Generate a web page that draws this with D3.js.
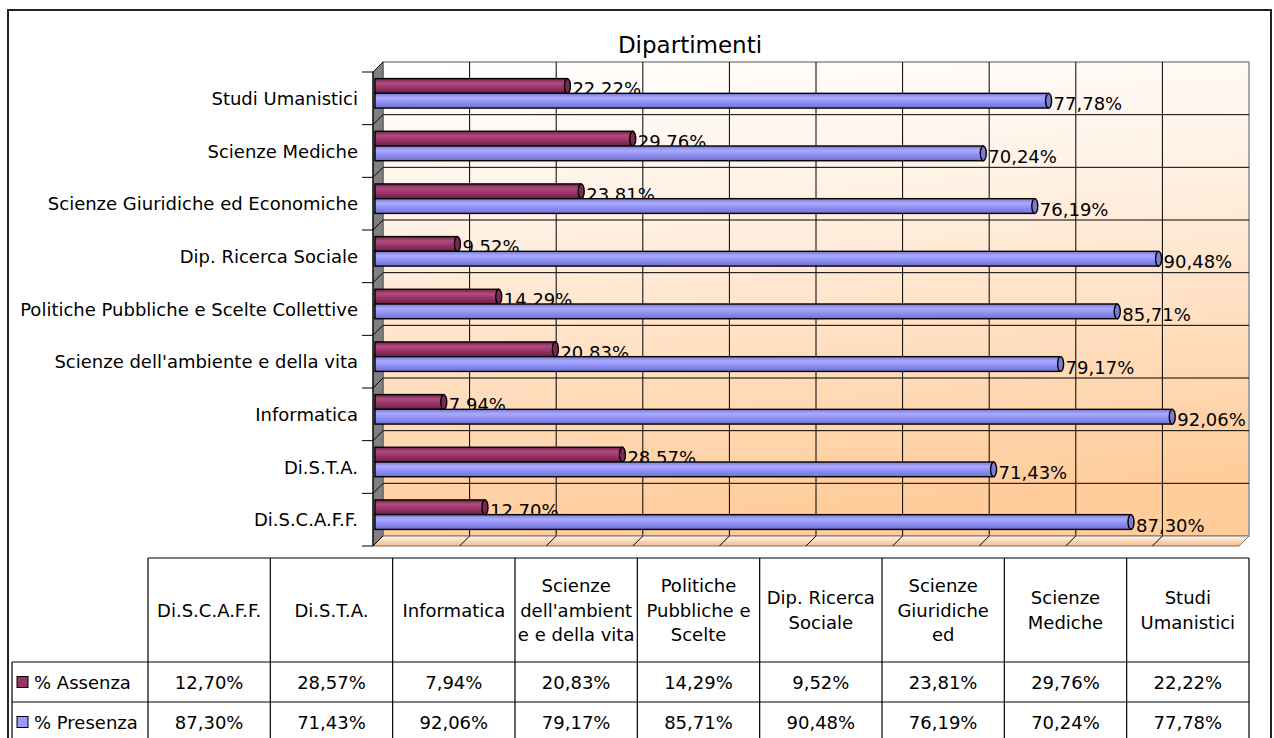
<!DOCTYPE html>
<html>
<head>
<meta charset="utf-8">
<script src="https://cdn.jsdelivr.net/npm/d3@7"></script>
<style>
  body { margin: 0; background: #fff; }
  text { font-family: "Comic Sans MS", "DejaVu Sans", sans-serif; fill: #000; }
</style>
</head>
<body>
<div id="chart"></div>
<script>
// data, in table order (bottom of the chart first)
var categories = ["Di.S.C.A.F.F.", "Di.S.T.A.", "Informatica", "Scienze dell'ambiente e della vita",
  "Politiche Pubbliche e Scelte Collettive", "Dip. Ricerca Sociale", "Scienze Giuridiche ed Economiche",
  "Scienze Mediche", "Studi Umanistici"];
// header of the data table, wrapped / cut like the original
var headerLines = [["Di.S.C.A.F.F."], ["Di.S.T.A."], ["Informatica"], ["Scienze", "dell'ambient", "e e della vita"],
  ["Politiche", "Pubbliche e", "Scelte"], ["Dip. Ricerca", "Sociale"], ["Scienze", "Giuridiche", "ed"],
  ["Scienze", "Mediche"], ["Studi", "Umanistici"]];
var seriesNames = ["% Assenza", "% Presenza"];
var assenza = [12.70, 28.57, 7.94, 20.83, 14.29, 9.52, 23.81, 29.76, 22.22];
var presenza = [87.30, 71.43, 92.06, 79.17, 85.71, 90.48, 76.19, 70.24, 77.78];
var gridValues = [0, 10, 20, 30, 40, 50, 60, 70, 80, 90, 100];
var title = "Dipartimenti";

var series = [assenza, presenza];
var colors = ["#993366", "#9999FF"];

var svgWidth = 1274, svgHeight = 738;
var fs = 18;
var DX = -10, DY = 10; // 3d depth offset (front = back + offset)

var loc = d3.formatLocale({decimal: ",", thousands: ".", grouping: [3], currency: ["", "€"]});
var pct = function(v) { return loc.format(".2f")(v) + "%"; };

var svg = d3.select("#chart").append("svg")
  .attr("width", svgWidth).attr("height", svgHeight);

var defs = svg.append("defs");
var wallGrad = defs.append("linearGradient").attr("id", "wall")
  .attr("x1", 0).attr("y1", 0).attr("x2", 0.15).attr("y2", 1);
wallGrad.append("stop").attr("offset", 0).attr("stop-color", "#ffffff");
wallGrad.append("stop").attr("offset", 0.35).attr("stop-color", "#fff1e4");
wallGrad.append("stop").attr("offset", 1).attr("stop-color", "#ffcc9a");

var floorGrad = defs.append("linearGradient").attr("id", "floor")
  .attr("x1", 0).attr("y1", 0).attr("x2", 0).attr("y2", 1);
floorGrad.append("stop").attr("offset", 0).attr("stop-color", "#fff6ee");
floorGrad.append("stop").attr("offset", 1).attr("stop-color", "#f4b98a");

var barStops = [
  [["0", "#6e2248"], ["0.3", "#b04c80"], ["0.6", "#9a3468"], ["1", "#6a1f45"]],
  [["0", "#7a7ad8"], ["0.3", "#aaaaff"], ["0.6", "#9090f4"], ["1", "#7070d0"]]
];
barStops.forEach(function(st, i) {
  var g = defs.append("linearGradient").attr("id", "bar" + i)
    .attr("x1", 0).attr("y1", 0).attr("x2", 0).attr("y2", 1);
  st.forEach(function(s) { g.append("stop").attr("offset", s[0]).attr("stop-color", s[1]); });
});

// outer frame
svg.append("rect")
  .attr("x", 8).attr("y", 10).attr("width", 1263).attr("height", 760)
  .attr("fill", "#fff").attr("stroke", "#222").attr("stroke-width", 2);

// title
svg.append("text")
  .attr("x", 690).attr("y", 45)
  .attr("text-anchor", "middle").attr("dominant-baseline", "central")
  .attr("font-size", 23)
  .text(title);

// scales (back wall)
var order = categories.slice().reverse(); // top of chart = last category
var x = d3.scaleLinear().domain([0, 100]).range([383, 1249]);
var y = d3.scaleBand().domain(order).range([62, 536]);

// bars sit a bit in front of the wall
var xb = d3.scaleLinear().domain([0, 100]).range([375, 1241]);
var yb = d3.scaleBand().domain(order).range([67, 541]).paddingInner(0.44).paddingOuter(0.22);
var ys = d3.scaleBand().domain([0, 1]).range([0, yb.bandwidth()]);

// back wall
svg.append("rect")
  .attr("x", x(0)).attr("y", y.range()[0])
  .attr("width", x(100) - x(0)).attr("height", y.range()[1] - y.range()[0])
  .attr("fill", "url(#wall)").attr("stroke", "#8c8c8c").attr("stroke-width", 1.5);

// vertical gridlines
svg.append("g").selectAll("line")
  .data(gridValues.slice(1, -1))
  .enter().append("line")
  .attr("x1", d => x(d)).attr("x2", d => x(d))
  .attr("y1", y.range()[0]).attr("y2", y.range()[1])
  .attr("stroke", "#000").attr("stroke-width", 1);

// horizontal gridlines (category boundaries)
var bounds = order.map(d => y(d)).concat([y.range()[1]]);
svg.append("g").selectAll("line")
  .data(bounds.slice(1, -1))
  .enter().append("line")
  .attr("x1", x(0)).attr("x2", x(100))
  .attr("y1", d => d).attr("y2", d => d)
  .attr("stroke", "#000").attr("stroke-width", 1);

// left wall
svg.append("polygon")
  .attr("points", [[x(0), y.range()[0]], [x(0), y.range()[1]],
    [x(0) + DX, y.range()[1] + DY], [x(0) + DX, y.range()[0] + DY]].join(" "))
  .attr("fill", "#808080").attr("stroke", "#555").attr("stroke-width", 1);

// floor
svg.append("polygon")
  .attr("points", [[x(0), y.range()[1]], [x(100), y.range()[1]],
    [x(100) + DX, y.range()[1] + DY], [x(0) + DX, y.range()[1] + DY]].join(" "))
  .attr("fill", "url(#floor)").attr("stroke", "#777").attr("stroke-width", 1);

// floor grid diagonals
svg.append("g").selectAll("line")
  .data(gridValues.slice(1, -1))
  .enter().append("line")
  .attr("x1", d => x(d)).attr("y1", y.range()[1])
  .attr("x2", d => x(d) + DX).attr("y2", y.range()[1] + DY)
  .attr("stroke", "#000").attr("stroke-width", 1);

// category axis: ticks + diagonals on wall
svg.append("line")
  .attr("x1", x(0) + DX).attr("x2", x(0) + DX)
  .attr("y1", y.range()[0] + DY).attr("y2", y.range()[1] + DY)
  .attr("stroke", "#000").attr("stroke-width", 1.2);
var tk = svg.append("g").selectAll("g").data(bounds).enter().append("g");
tk.append("line")
  .attr("x1", x(0) + DX - 11).attr("x2", x(0) + DX)
  .attr("y1", d => d + DY).attr("y2", d => d + DY)
  .attr("stroke", "#000");
tk.append("line")
  .attr("x1", x(0) + DX).attr("x2", x(0))
  .attr("y1", d => d + DY).attr("y2", d => d)
  .attr("stroke", "#000");

// category labels
svg.append("g").selectAll("text")
  .data(order)
  .enter().append("text")
  .attr("x", 358)
  .attr("y", d => y(d) + DY + y.bandwidth() / 2)
  .attr("text-anchor", "end").attr("dominant-baseline", "central")
  .attr("font-size", fs)
  .text(d => d);

// bars
series.forEach(function(vals, s) {
  var g = svg.append("g");
  var bars = g.selectAll("g").data(categories).enter().append("g");
  bars.append("rect")
    .attr("x", xb(0))
    .attr("y", d => yb(d) + ys(s))
    .attr("width", (d, i) => xb(vals[i]) - xb(0))
    .attr("height", ys.bandwidth())
    .attr("fill", "url(#bar" + s + ")")
    .attr("stroke", "#000").attr("stroke-width", 1.4);
  bars.append("ellipse")
    .attr("cx", (d, i) => xb(vals[i]))
    .attr("cy", d => yb(d) + ys(s) + ys.bandwidth() / 2)
    .attr("rx", 3).attr("ry", ys.bandwidth() / 2)
    .attr("fill", d3.color(colors[s]).darker(0.6))
    .attr("stroke", "#000").attr("stroke-width", 1.4);
  // value labels
  g.selectAll("text").data(categories).enter().append("text")
    .attr("x", (d, i) => xb(vals[i]) + 5)
    .attr("y", d => yb(d) + ys(s) + ys.bandwidth() / 2 + 3)
    .attr("dominant-baseline", "central")
    .attr("font-size", fs)
    .text((d, i) => pct(vals[i]));
});

// data table
var col = d3.scaleBand().domain(categories).range([148, 1249]);
var headTop = 558, headBot = 662, rowH = 40, legX = 12;
var tbl = svg.append("g").attr("stroke", "#000").attr("stroke-width", 1.2);
tbl.append("line").attr("x1", col.range()[0]).attr("x2", col.range()[1])
  .attr("y1", headTop).attr("y2", headTop);
[0, 1].forEach(function(r) {
  tbl.append("line").attr("x1", legX).attr("x2", col.range()[1])
    .attr("y1", headBot + r * rowH).attr("y2", headBot + r * rowH);
});
tbl.append("line").attr("x1", legX).attr("x2", legX)
  .attr("y1", headBot).attr("y2", svgHeight);
tbl.selectAll(".v").data(categories.map(d => col(d)).concat([col.range()[1]]))
  .enter().append("line")
  .attr("x1", d => d).attr("x2", d => d)
  .attr("y1", headTop).attr("y2", svgHeight);

// header text
var lh = 24.5;
categories.forEach(function(c, i) {
  var lines = headerLines[i];
  var cy = (headTop + headBot) / 2;
  lines.forEach(function(t, j) {
    svg.append("text")
      .attr("x", col(c) + col.bandwidth() / 2)
      .attr("y", cy + (j - (lines.length - 1) / 2) * lh)
      .attr("text-anchor", "middle").attr("dominant-baseline", "central")
      .attr("font-size", fs)
      .text(t);
  });
});

// rows
series.forEach(function(vals, s) {
  var cy = headBot + s * rowH + rowH / 2;
  svg.append("rect")
    .attr("x", 17).attr("y", cy - 5.5).attr("width", 11).attr("height", 11)
    .attr("fill", colors[s]).attr("stroke", "#000").attr("stroke-width", 1);
  svg.append("text")
    .attr("x", 34).attr("y", cy)
    .attr("dominant-baseline", "central").attr("font-size", fs)
    .text(seriesNames[s]);
  svg.append("g").selectAll("text").data(categories).enter().append("text")
    .attr("x", d => col(d) + col.bandwidth() / 2)
    .attr("y", cy)
    .attr("text-anchor", "middle").attr("dominant-baseline", "central")
    .attr("font-size", fs)
    .text((d, i) => pct(vals[i]));
});
</script>
</body>
</html>
